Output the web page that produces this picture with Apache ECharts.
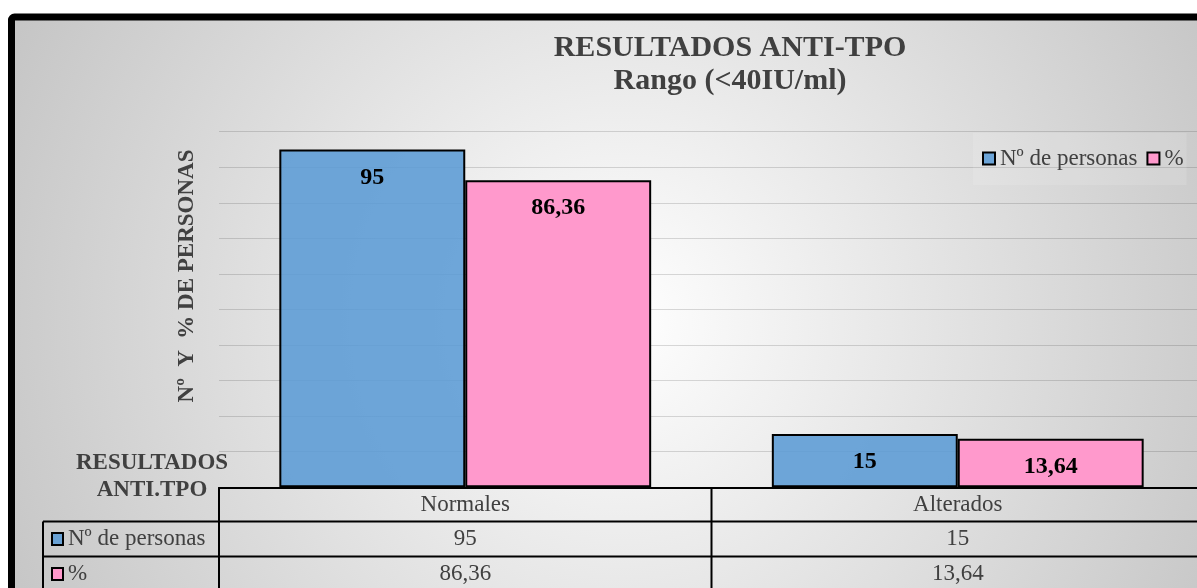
<!DOCTYPE html>
<html>
<head>
<meta charset="utf-8">
<script src="https://cdn.jsdelivr.net/npm/echarts@6/dist/echarts.min.js"></script>
<style>
  html, body { margin: 0; padding: 0; background: #ffffff; }
  #chart { width: 1197px; height: 588px; }
</style>
</head>
<body>
<div id="chart"></div>
<script>
// Data
const categories = ['Normales', 'Alterados'];
const seriesNames = ['Nº de personas', '%'];
const personas = [95, 15];
const porcentaje = [86.36, 13.64];
const seriesColors = ['rgba(91,155,213,0.88)', '#FF99CC'];
const titleLines = ['RESULTADOS ANTI-TPO', 'Rango (<40IU/ml)'];
const yAxisTitle = 'Nº  Y  % DE PERSONAS';
const tableCorner = ['RESULTADOS', 'ANTI.TPO'];

const SERIF = '"Liberation Serif", "Times New Roman", serif';
const TEXT_GREY = '#404040';
const fmt = v => String(v).replace('.', ',');

const chart = echarts.init(document.getElementById('chart'), null, { renderer: 'canvas' });

// plot area runs past the right edge of the page
const GRID = { left: 219, top: 131.7, width: 985, height: 355.6, outerBoundsMode: 'none', containLabel: false };

function barSeries(name, values, color) {
  return {
    name: name,
    type: 'bar',
    data: values,
    barGap: '0%',
    barCategoryGap: '24.5%',
    itemStyle: { color: color, borderColor: '#000', borderWidth: 2 },
    label: {
      show: true,
      position: 'insideTop',
      distance: 16,
      formatter: p => fmt(p.value),
      fontFamily: SERIF,
      fontWeight: 'bold',
      fontSize: 24,
      color: '#000'
    }
  };
}

chart.setOption({
  animation: false,
  title: {
    text: titleLines.join('\n'),
    left: 730,
    top: 32,
    padding: 0,
    textAlign: 'center',
    textStyle: {
      fontFamily: SERIF,
      fontWeight: 'bold',
      fontSize: 30,
      lineHeight: 33,
      color: TEXT_GREY
    }
  },
  legend: {
    data: seriesNames,
    left: 973,
    top: 133,
    orient: 'horizontal',
    icon: 'rect',
    itemWidth: 12,
    itemHeight: 12,
    itemGap: 9,
    padding: [14, 3, 15, 9],
    backgroundColor: 'rgba(255,255,255,0.12)',
    textStyle: { fontFamily: SERIF, fontSize: 23, color: TEXT_GREY }
  },
  grid: GRID,
  xAxis: {
    type: 'category',
    data: categories,
    axisLine: { lineStyle: { color: '#000', width: 2 } },
    axisTick: { show: false },
    axisLabel: {
      margin: 6,
      fontFamily: SERIF,
      fontSize: 23,
      color: TEXT_GREY
    }
  },
  yAxis: {
    type: 'value',
    min: 0,
    max: 100,
    interval: 10,
    axisLabel: { show: false },
    axisLine: { show: false },
    axisTick: { show: false },
    splitLine: { lineStyle: { color: 'rgba(0,0,0,0.14)', width: 1 } }
  },
  series: [
    barSeries(seriesNames[0], personas, seriesColors[0]),
    barSeries(seriesNames[1], porcentaje, seriesColors[1])
  ]
});

// Frame, axis title and the data table under the plot
const c0 = chart.convertToPixel({ xAxisIndex: 0 }, categories[0]);
const c1 = chart.convertToPixel({ xAxisIndex: 0 }, categories[1]);
const half = (c1 - c0) / 2;
const tableLeft = c0 - half;
const divider = c0 + half;
const keyLeft = 43;
const headerTop = GRID.top + GRID.height;
const rowH = 35;
const rowTops = [521.5, 521.5 + rowH];
const rowValues = [personas, porcentaje];

const LINE = { stroke: '#000', lineWidth: 2 };
const elements = [];

elements.push({
  type: 'rect',
  z: -100,
  silent: true,
  shape: { x: 11.5, y: 17, width: 1300, height: 700, r: 3 },
  style: {
    fill: {
      type: 'radial', x: 620, y: 320, r: 690, global: true,
      colorStops: [
        { offset: 0, color: '#ffffff' },
        { offset: 1, color: '#c4c4c4' }
      ]
    },
    stroke: '#000',
    lineWidth: 7
  }
});

elements.push({
  type: 'text',
  x: 187, y: 276,
  rotation: Math.PI / 2,
  style: {
    text: yAxisTitle,
    fontFamily: SERIF, fontWeight: 'bold', fontSize: 23,
    fill: TEXT_GREY, align: 'center', verticalAlign: 'middle'
  }
});

elements.push({
  type: 'text',
  x: 152, y: 477,
  style: {
    text: tableCorner.join('\n'),
    fontFamily: SERIF, fontWeight: 'bold', fontSize: 23, lineHeight: 27,
    fill: TEXT_GREY, align: 'center', verticalAlign: 'middle'
  }
});

// table grid lines
elements.push({ type: 'line', shape: { x1: tableLeft, y1: headerTop, x2: tableLeft, y2: 600 }, style: LINE });
elements.push({ type: 'line', shape: { x1: divider, y1: headerTop, x2: divider, y2: 600 }, style: LINE });
elements.push({ type: 'line', shape: { x1: keyLeft, y1: rowTops[0], x2: keyLeft, y2: 600 }, style: LINE });
rowTops.forEach(y => {
  elements.push({ type: 'line', shape: { x1: keyLeft, y1: y, x2: 1200, y2: y }, style: LINE });
});

// table rows: legend key, series name and the values per category
seriesNames.forEach((name, r) => {
  const mid = rowTops[r] + rowH / 2;
  elements.push({
    type: 'rect',
    shape: { x: 52, y: mid - 6, width: 11, height: 12 },
    style: { fill: seriesColors[r], stroke: '#000', lineWidth: 2 }
  });
  elements.push({
    type: 'text', x: 68, y: mid,
    style: {
      text: name, fontFamily: SERIF, fontSize: 23, fill: TEXT_GREY,
      align: 'left', verticalAlign: 'middle'
    }
  });
  categories.forEach((cat, i) => {
    elements.push({
      type: 'text',
      x: chart.convertToPixel({ xAxisIndex: 0 }, cat),
      y: mid,
      style: {
        text: fmt(rowValues[r][i]), fontFamily: SERIF, fontSize: 23, fill: TEXT_GREY,
        align: 'center', verticalAlign: 'middle'
      }
    });
  });
});

chart.setOption({ graphic: { elements: elements } });
</script>
</body>
</html>
